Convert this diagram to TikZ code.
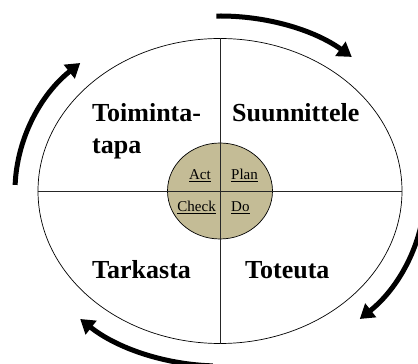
\documentclass[tikz,border=0pt]{standalone}
\usepackage{fontspec}
\setmainfont{Liberation Serif}
\usetikzlibrary{arrows.meta,shapes.geometric}
\definecolor{hubtan}{RGB}{196,188,150}

\begin{document}
\begin{tikzpicture}[
    x=1pt, y=1pt,
    quarter/.style={font=\fontsize{26}{30}\selectfont\bfseries, inner sep=0pt, anchor=base west},
    pdca/.style={font=\fontsize{15}{18}\selectfont, inner sep=0pt},
    split/.style={draw=black!85, line width=0.7pt},
    cycle/.style={line width=5pt, -{Triangle[length=14pt,width=17pt]}}
]
\useasboundingbox (0,0) rectangle (418,364);
\coordinate (c) at (220,173);
\node[ellipse, draw, line width=0.7pt, minimum width=364pt, minimum height=305pt, inner sep=0pt] (outer) at (c) {};
\node[ellipse, draw, fill=hubtan, line width=0.7pt, minimum width=105pt, minimum height=96pt, inner sep=0pt] (hub) at (c) {};
\draw[split] (outer.north) -- (outer.south);
\draw[split] (outer.west) -- (outer.east);
% quarters
\node[quarter] (act) at (92,242) {Toiminta-};
\node[quarter] (act2) at (92,210) {tapa};
\node[quarter] (plan) at (232,242) {Suunnittele};
\node[quarter] (check) at (92,85) {Tarkasta};
\node[quarter] (do) at (245,85) {Toteuta};
% hub labels
\node[pdca, anchor=base east] (hact) at (211,184) {\underline{Act}};
\node[pdca, anchor=base west] (hplan) at (231,184) {\underline{Plan}};
\node[pdca, anchor=base east] (hcheck) at (216,152) {\underline{Check}};
\node[pdca, anchor=base west] (hdo) at (231,152) {\underline{Do}};
% cycle arrows
\draw[cycle] ([shift={(91:205pt and 175pt)}]c) arc[start angle=91, end angle=50, x radius=205pt, y radius=175pt];
\draw[cycle] ([shift={(-4:205pt and 175pt)}]c) arc[start angle=-4, end angle=-47, x radius=205pt, y radius=175pt];
\draw[cycle] ([shift={(-92:205pt and 175pt)}]c) arc[start angle=-92, end angle=-133, x radius=205pt, y radius=175pt];
\draw[cycle] ([shift={(178:205pt and 175pt)}]c) arc[start angle=178, end angle=133, x radius=205pt, y radius=175pt];
\end{tikzpicture}
\end{document}
